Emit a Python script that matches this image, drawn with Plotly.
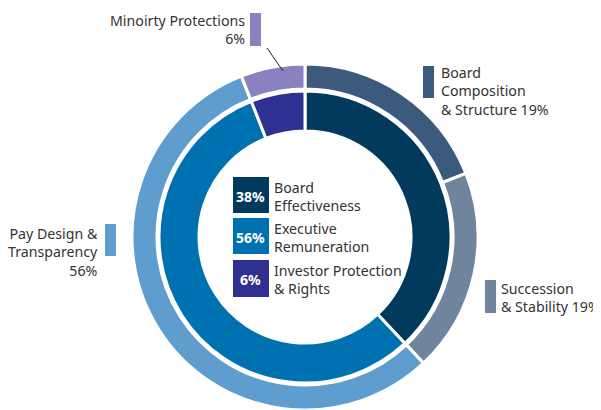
import plotly.graph_objects as go

# page has an 8px body margin: figure is shrunk and coordinates shifted
OFF = 8
W, H = 601 - OFF, 410 - OFF

# ---- data ----
inner_labels = ["Board Effectiveness", "Executive Remuneration", "Investor Protection & Rights"]
inner_values = [38, 56, 6]
inner_colors = ["#023a5d", "#0071b0", "#2f3192"]

outer_labels = ["Board Composition & Structure", "Succession & Stability",
                "Pay Design & Transparency", "Minoirty Protections"]
outer_values = [19, 19, 56, 6]
outer_colors = ["#3c5a7b", "#6f849d", "#5e9dcd", "#8a81bf"]

TXT = "#333333"
FONT = "Noto Sans"
FS = 14.2


def px(x):
    return (x - OFF) / W


def py(y):
    return 1 - (y - OFF) / H


cx, cy = 305, 237
R_out, R_out_in = 173, 148
R_in, R_in_in = 146, 106


def dom(r):
    return dict(x=[px(cx - r), px(cx + r)], y=[py(cy + r), py(cy - r)])


fig = go.Figure()
fig.add_trace(go.Pie(
    labels=outer_labels, values=outer_values, sort=False, direction="clockwise",
    rotation=0, hole=R_out_in / R_out, domain=dom(R_out),
    marker=dict(colors=outer_colors, line=dict(color="white", width=3)),
    textinfo="none", hoverinfo="label+percent", showlegend=False))
fig.add_trace(go.Pie(
    labels=inner_labels, values=inner_values, sort=False, direction="clockwise",
    rotation=0, hole=R_in_in / R_in, domain=dom(R_in),
    marker=dict(colors=inner_colors, line=dict(color="white", width=3)),
    textinfo="none", hoverinfo="label+percent", showlegend=False))

shapes = []
annotations = []


def box(x0, y0, x1, y1, color):
    shapes.append(dict(type="rect", xref="paper", yref="paper",
                       x0=px(x0), x1=px(x1), y0=py(y1), y1=py(y0),
                       fillcolor=color, line=dict(width=0), layer="above"))


def text(x, y, s, anchor, size=FS, color=TXT, bold=False):
    if bold:
        s = "<b>" + s + "</b>"
    annotations.append(dict(xref="paper", yref="paper", x=px(x), y=py(y), text=s,
                            showarrow=False, xanchor=anchor, yanchor="middle",
                            align=anchor if anchor != "center" else "center",
                            font=dict(family=FONT, size=size, color=color)))


# outer labels
box(423, 66, 434, 98, outer_colors[0])
text(439, 91, "Board<br>Composition<br>& Structure %d%%" % outer_values[0], "left")
box(485, 280, 496, 313, outer_colors[1])
text(499, 297.5, "Succession<br>& Stability %d%%" % outer_values[1], "left")
box(105, 224, 116, 256, outer_colors[2])
text(100, 252, "Pay Design &<br>Transparency<br>%d%%" % outer_values[2], "right")
box(250, 13, 261, 46, outer_colors[3])
text(247, 29.5, "%s<br>%d%%" % (outer_labels[3], outer_values[3]), "right")
shapes.append(dict(type="line", xref="paper", yref="paper",
                   x0=px(267), y0=py(48), x1=px(283), y1=py(71),
                   line=dict(color="#222222", width=1)))

# center legend
legend_rows = [(177, 213, "Board<br>Effectiveness"),
               (218, 254, "Executive<br>Remuneration"),
               (260, 297, "Investor Protection<br>& Rights")]
for (y0, y1, lab), v, c in zip(legend_rows, inner_values, inner_colors):
    box(233, y0, 269, y1, c)
    text(251, (y0 + y1) / 2 + 1, "%d%%" % v, "center", size=14, color="white", bold=True)
    text(272, (y0 + y1) / 2 + 1, lab, "left")

fig.update_layout(width=W, height=H, margin=dict(l=0, r=0, t=0, b=0),
                  paper_bgcolor="white", plot_bgcolor="white",
                  shapes=shapes, annotations=annotations)

fig.write_html("out.html")
